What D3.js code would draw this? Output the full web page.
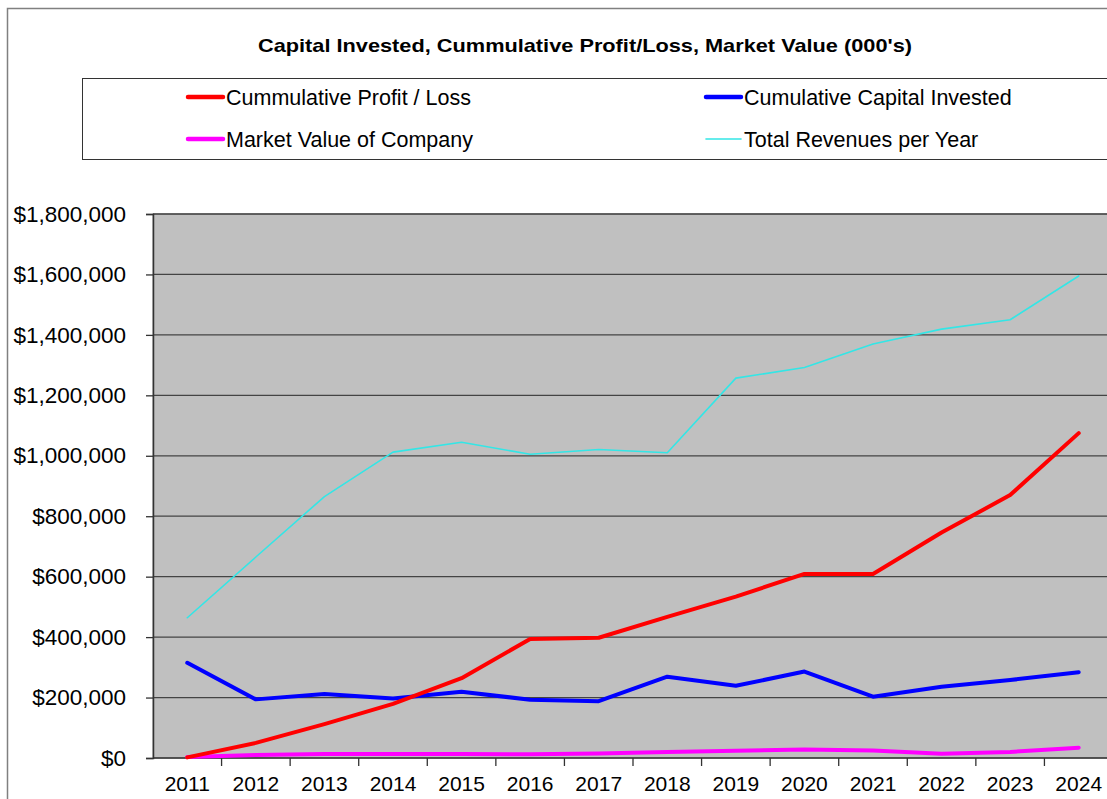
<!DOCTYPE html>
<html>
<head>
<meta charset="utf-8">
<script src="https://cdn.jsdelivr.net/npm/d3@7"></script>
<style>
body { margin: 0; background: #fff; }
text { font-family: "Liberation Sans", Arial, sans-serif; }
</style>
</head>
<body>
<div id="chart"></div>
<script>
var years = ["2011","2012","2013","2014","2015","2016","2017","2018","2019","2020","2021","2022","2023","2024"];
var profitLoss = [2000, 50000, 112000, 179000, 264000, 394000, 398000, 467000, 534000, 609000, 609000, 746000, 870000, 1075000];
var capitalInvested = [315000, 194000, 212000, 197000, 219000, 193000, 188000, 269000, 239000, 286000, 203000, 236000, 258000, 284000];
var marketValue = [3000, 10000, 13000, 13000, 13000, 12000, 15000, 20000, 24000, 28000, 25000, 14000, 20000, 34000];
var revenues = [464000, 665000, 865000, 1012000, 1045000, 1005000, 1021000, 1010000, 1257000, 1292000, 1370000, 1419000, 1450000, 1595000];
var yTicks = [0, 200000, 400000, 600000, 800000, 1000000, 1200000, 1400000, 1600000, 1800000];

var series = [
    {name: "Cummulative Profit / Loss", values: profitLoss, color: "#FF0000", width: 4},
    {name: "Cumulative Capital Invested", values: capitalInvested, color: "#0000FF", width: 4},
    {name: "Market Value of Company", values: marketValue, color: "#FF00FF", width: 4},
    {name: "Total Revenues per Year", values: revenues, color: "#33E6E6", width: 1.6}
];

var width = 1107;
var height = 799;
var margin = {top: 214, bottom: 41, left: 153, right: -6};

var svg = d3.select("#chart")
    .append("svg")
    .attr("width", width)
    .attr("height", height);

// outer chart border
svg.append("rect")
    .attr("x", 7.5).attr("y", 8.5)
    .attr("width", width + 10).attr("height", height)
    .attr("fill", "#fff")
    .attr("stroke", "#808080")
    .attr("stroke-width", 1.5);

svg.append("text")
    .attr("x", 585)
    .attr("y", 52)
    .attr("text-anchor", "middle")
    .attr("font-weight", "bold")
    .attr("font-size", "19px")
    .attr("textLength", 654)
    .attr("lengthAdjust", "spacingAndGlyphs")
    .text("Capital Invested, Cummulative Profit/Loss, Market Value (000's)");

var xScale = d3.scaleBand()
    .domain(years)
    .range([margin.left, width - margin.right]);

var yScale = d3.scaleLinear()
    .domain([0, 1800000])
    .range([height - margin.bottom, margin.top]);

// plot area
svg.append("rect")
    .attr("x", margin.left)
    .attr("y", margin.top)
    .attr("width", width - margin.right - margin.left)
    .attr("height", height - margin.bottom - margin.top)
    .attr("fill", "#C0C0C0")
    .attr("stroke", "#808080")
    .attr("stroke-width", 1);

// gridlines
svg.append("g")
    .selectAll("line")
    .data(yTicks.slice(1))
    .enter()
    .append("line")
    .attr("x1", margin.left)
    .attr("x2", width)
    .attr("y1", function(d){ return yScale(d); })
    .attr("y2", function(d){ return yScale(d); })
    .attr("stroke", "#444")
    .attr("stroke-width", 1.3);

var yAxis = svg.append("g")
    .attr("transform", `translate(${margin.left},0)`)
    .call(d3.axisLeft(yScale)
        .tickValues(yTicks)
        .tickSize(7)
        .tickPadding(20)
        .tickFormat(function(d){ return "$" + d3.format(",")(d); }));
yAxis.select(".domain").attr("stroke", "#333").attr("stroke-width", 1.5);
yAxis.selectAll(".tick line").attr("stroke", "#333").attr("stroke-width", 1.3);
yAxis.selectAll("text")
    .attr("font-size", "22.5px")
    .attr("fill", "#000")
    .style("font-family", "'Liberation Sans', Arial, sans-serif");

// category axis with ticks between categories
var xAxisG = svg.append("g")
    .attr("transform", `translate(0,${height - margin.bottom})`);
xAxisG.append("line")
    .attr("x1", margin.left).attr("x2", width)
    .attr("stroke", "#333").attr("stroke-width", 1.5);
xAxisG.selectAll(".tk")
    .data(years)
    .enter()
    .append("line")
    .attr("class", "tk")
    .attr("x1", function(d){ return xScale(d) + xScale.bandwidth(); })
    .attr("x2", function(d){ return xScale(d) + xScale.bandwidth(); })
    .attr("y1", 0).attr("y2", 8)
    .attr("stroke", "#333").attr("stroke-width", 1.3);
xAxisG.selectAll(".lbl")
    .data(years)
    .enter()
    .append("text")
    .attr("class", "lbl")
    .attr("x", function(d){ return xScale(d) + xScale.bandwidth() / 2; })
    .attr("y", 33)
    .attr("text-anchor", "middle")
    .attr("font-size", "21px")
    .text(function(d){ return d; });

var line = d3.line()
    .x(function(d, i){ return xScale(years[i]) + xScale.bandwidth() / 2; })
    .y(function(d){ return yScale(d); });

svg.append("g")
    .selectAll("path")
    .data(series.slice().reverse())
    .enter()
    .append("path")
    .attr("d", function(d){ return line(d.values); })
    .attr("fill", "none")
    .attr("stroke", function(d){ return d.color; })
    .attr("stroke-width", function(d){ return d.width; })
    .attr("stroke-linejoin", "round")
    .attr("stroke-linecap", "round");

// legend
var legend = svg.append("g");
legend.append("rect")
    .attr("x", 82.5).attr("y", 78.5)
    .attr("width", 1040).attr("height", 81)
    .attr("fill", "#fff")
    .attr("stroke", "#333")
    .attr("stroke-width", 1);

var legendPos = [[188, 97], [706, 97], [188, 139], [706, 139]];
var items = legend.selectAll(".item")
    .data(series)
    .enter()
    .append("g")
    .attr("class", "item")
    .attr("transform", function(d, i){ return `translate(${legendPos[i][0]},${legendPos[i][1]})`; });
items.append("line")
    .attr("x1", 0).attr("x2", 35)
    .attr("stroke", function(d){ return d.color; })
    .attr("stroke-width", function(d){ return d.width === 4 ? 4.5 : d.width; })
    .attr("stroke-linecap", "round");
items.append("text")
    .attr("x", 38)
    .attr("y", 7.5)
    .attr("font-size", "21.5px")
    .text(function(d){ return d.name; });
</script>
</body>
</html>
